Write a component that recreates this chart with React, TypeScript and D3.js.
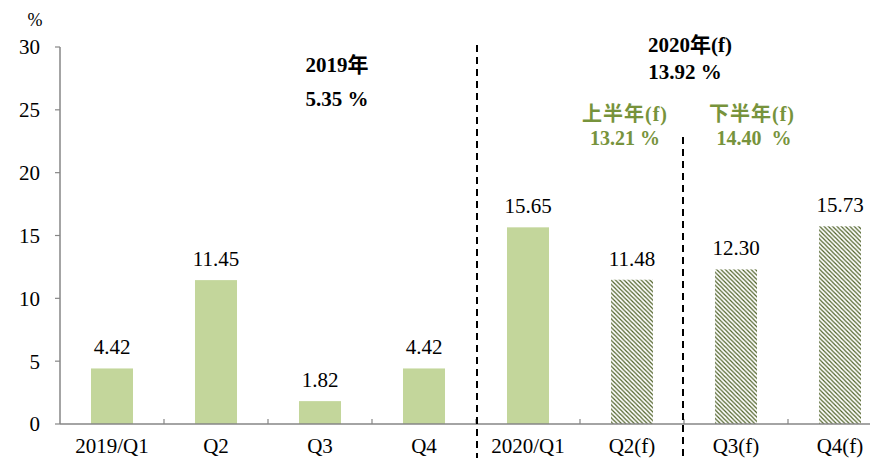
import React from "react";
import * as d3 from "d3";

const categories = ["2019/Q1", "Q2", "Q3", "Q4", "2020/Q1", "Q2(f)", "Q3(f)", "Q4(f)"];
const values = [4.42, 11.45, 1.82, 4.42, 15.65, 11.48, 12.3, 15.73];
const valueLabels = ["4.42", "11.45", "1.82", "4.42", "15.65", "11.48", "12.30", "15.73"];
const forecast = [false, false, false, false, false, true, true, true];
const yTicks = [0, 5, 10, 15, 20, 25, 30];

const W = 870;
const H = 458;
const FONT = "Liberation Serif, 'Noto Sans CJK TC', serif";

export default function App() {
  const x = d3.scaleBand<string>().domain(categories).range([60, 892]).paddingInner(0.596).paddingOuter(0.298);
  const y = d3.scaleLinear().domain([0, 30]).range([424, 47]);
  const step = x.step();
  const x0 = 60;
  const boundaries = d3.range(1, categories.length).map((i) => x0 + i * step);
  const axisColor = "#868686";
  const ts = { fontFamily: FONT };

  return (
    <svg width={W} height={H} style={{ position: "absolute", left: 0, top: 0, background: "#fff" }}>
      <defs>
        <pattern id="hatch" patternUnits="userSpaceOnUse" width="4.3" height="4.3">
          <rect width="4.3" height="4.3" fill="#ffffff" />
          <path d="M-1,-1 L5.3,5.3 M-1,3.3 L1,5.3 M3.3,-1 L5.3,1" stroke="#4f6228" strokeWidth="1.2" />
        </pattern>
      </defs>

      {categories.map((c, i) => (
        <rect
          key={c}
          x={x(c)}
          y={y(values[i])}
          width={x.bandwidth()}
          height={y(0) - y(values[i])}
          fill={forecast[i] ? "url(#hatch)" : "#c3d69b"}
        />
      ))}

      {categories.map((c, i) => (
        <text key={"v" + c} style={ts} x={(x(c) as number) + x.bandwidth() / 2} y={y(values[i]) - 14} textAnchor="middle" fontSize={21} fill="#000">
          {valueLabels[i]}
        </text>
      ))}

      <line x1={x0} x2={x0} y1={y(30)} y2={y(0)} stroke={axisColor} strokeWidth={1.5} />
      {yTicks.map((t) => (
        <g key={t}>
          <line x1={x0 - 5} x2={x0} y1={y(t)} y2={y(t)} stroke={axisColor} strokeWidth={1.2} />
          <text style={ts} x={40} y={y(t)} dy="0.35em" textAnchor="end" fontSize={21} fill="#000">
            {t}
          </text>
        </g>
      ))}
      <text style={ts} x={35} y={26} textAnchor="middle" fontSize={18} fill="#000">%</text>

      <line x1={x0} x2={W} y1={y(0)} y2={y(0)} stroke={axisColor} strokeWidth={1.5} />
      {boundaries.map((b, i) => (
        <line key={"t" + i} x1={b} x2={b} y1={y(0) - 5} y2={y(0)} stroke={axisColor} strokeWidth={1.2} />
      ))}
      {categories.map((c) => (
        <text key={"x" + c} style={ts} x={(x(c) as number) + x.bandwidth() / 2} y={453} textAnchor="middle" fontSize={21} fill="#000">
          {c}
        </text>
      ))}

      <line x1={477} x2={477} y1={45} y2={458} stroke="#000" strokeWidth={2} strokeDasharray="7,5" />
      <line x1={683} x2={683} y1={137} y2={458} stroke="#000" strokeWidth={2} strokeDasharray="7,5" />

      <text style={ts} x={337} y={72} textAnchor="middle" fontSize={21} fontWeight="bold" fill="#000">2019年</text>
      <text style={ts} x={337} y={106} textAnchor="middle" fontSize={21} fontWeight="bold" fill="#000">5.35 %</text>
      <text style={ts} x={690} y={52} textAnchor="middle" fontSize={21} fontWeight="bold" fill="#000">2020年(f)</text>
      <text style={ts} x={685} y={79} textAnchor="middle" fontSize={21} fontWeight="bold" fill="#000">13.92 %</text>
      <text style={{ ...ts, letterSpacing: "1px" }} x={625} y={121} textAnchor="middle" fontSize={20} fontWeight="bold" fill="#77933c">上半年(f)</text>
      <text style={ts} x={625} y={145} textAnchor="middle" fontSize={20} fontWeight="bold" fill="#77933c">13.21 %</text>
      <text style={{ ...ts, letterSpacing: "1px" }} x={752} y={121} textAnchor="middle" fontSize={20} fontWeight="bold" fill="#77933c">下半年(f)</text>
      <text style={{ ...ts, whiteSpace: "pre" }} x={754} y={145} textAnchor="middle" fontSize={20} fontWeight="bold" fill="#77933c">14.40  %</text>
    </svg>
  );
}
